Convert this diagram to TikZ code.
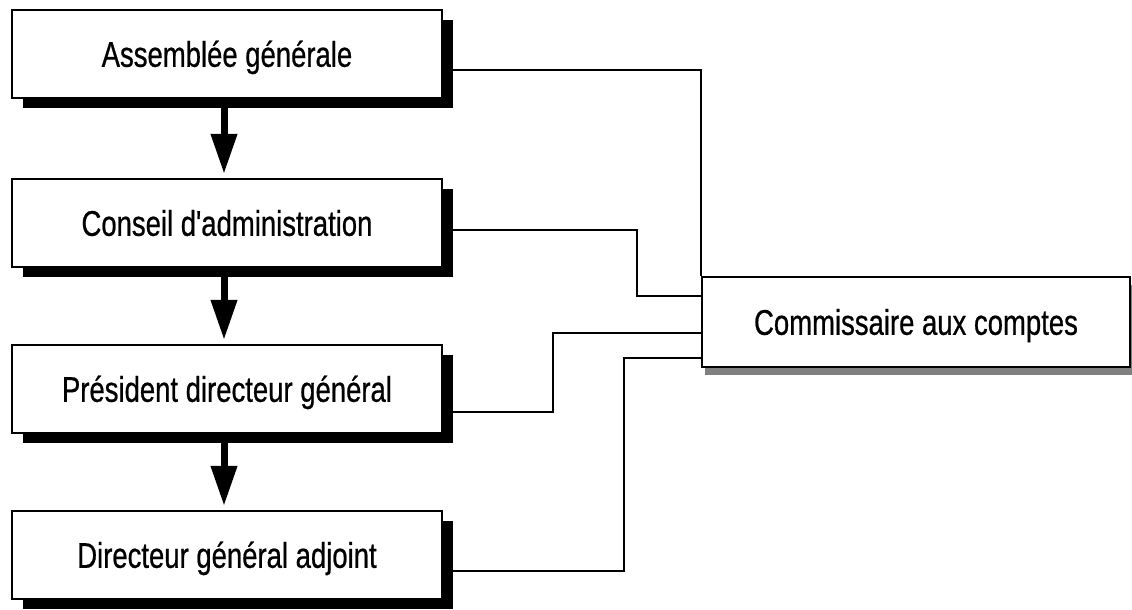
\documentclass[tikz,border=0pt]{standalone}
\usepackage{fontspec}
\setmainfont[FakeStretch=0.77,FakeBold=0.6,Ligatures=TeXOff]{Liberation Sans}
\usetikzlibrary{arrows.meta,shadows}
\begin{document}
\begin{tikzpicture}[x=1pt,y=-1pt,
  orgbox/.style={draw=black, line width=2.2pt, fill=white,
    minimum width=430pt, minimum height=88pt, inner sep=0pt,
    text height=25.6pt, text depth=0pt,
    font=\fontsize{35.7}{40}\selectfont,
    drop shadow={shadow xshift=11pt, shadow yshift=-10pt, fill=black, opacity=1}},
  ccbox/.style={draw=black, line width=2pt, fill=white,
    minimum width=428pt, minimum height=90pt, inner sep=0pt,
    text height=25.6pt, text depth=0pt,
    font=\fontsize{35.7}{40}\selectfont,
    drop shadow={shadow xshift=3pt, shadow yshift=-8pt, fill=black!50, opacity=1}},
  flow/.style={line width=7pt, -{Triangle[width=25pt,length=40pt]}, shorten >=4pt},
  link/.style={line width=2pt, line join=miter}
]
\useasboundingbox (0,0) rectangle (1132,610);
\fill[white] (0,0) rectangle (1132,610);

\node[orgbox] (a) at (227,54) {Assemblée générale};
\node[orgbox] (b) at (227,223) {Conseil d'administration};
\node[orgbox] (c) at (227,389) {Président directeur général};
\node[orgbox] (d) at (227,555) {Directeur général adjoint};
\node[ccbox]  (e) at (916,322) {Commissaire aux comptes};

\draw[flow] ([xshift=-3pt]a.south) -- ([xshift=-3pt]b.north);
\draw[flow] ([xshift=-3pt]b.south) -- ([xshift=-3pt]c.north);
\draw[flow] ([xshift=-3pt]c.south) -- ([xshift=-3pt]d.north);

\draw[link] ([yshift=-16pt]a.east) -| (e.north west);
\draw[link] ([yshift=-7pt]b.east) -- ++(194,0) |- ([yshift=26pt]e.west);
\draw[link] ([yshift=-23pt]c.east) -- ++(110,0) |- ([yshift=-11pt]e.west);
\draw[link] ([yshift=-16pt]d.east) -- ++(181,0) |- ([yshift=-36pt]e.west);
\end{tikzpicture}
\end{document}
